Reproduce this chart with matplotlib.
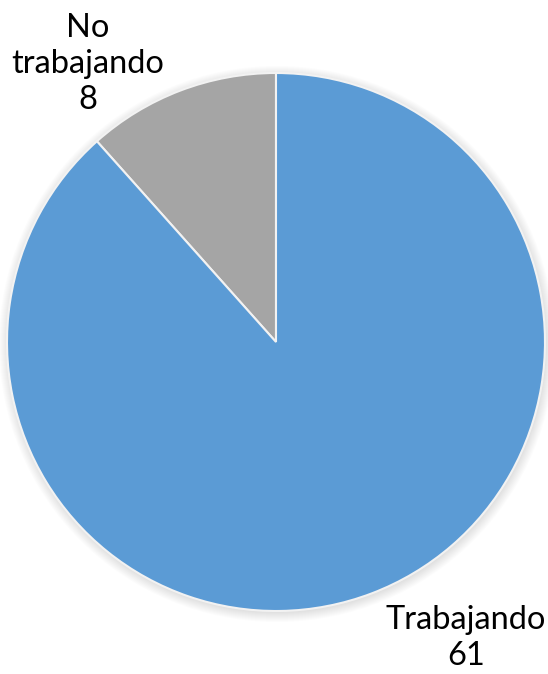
import matplotlib.pyplot as plt
from matplotlib.patches import Circle

# data
categories = ['No\ntrabajando', 'Trabajando']
values = [8, 61]
colors = ['#A5A5A5', '#5B9BD5']

W, H = 548, 674
fig = plt.figure(figsize=(W / 100, H / 100), dpi=100)
ax = fig.add_axes([0, 0, 1, 1])
ax.set_xlim(0, W)
ax.set_ylim(0, H)
ax.set_aspect('equal')
ax.axis('off')

cx, cy, r = 276, H - 342, 269

# soft shadow round the pie
for k in range(10):
    ax.add_patch(Circle((cx + 1, cy - 2), r + 9 - k, color='#808080',
                        alpha=0.025, lw=0, zorder=0))

wedges, _ = ax.pie(values, colors=colors, startangle=90, counterclock=True,
                   radius=r, center=(cx, cy), explode=[0.018, 0],
                   wedgeprops=dict(edgecolor='#f2f2f2', linewidth=1.5),
                   frame=True)
ax.set_xlim(0, W)
ax.set_ylim(0, H)
ax.axis('off')

lab_font = dict(fontsize=23.5, family='Lato', color='black',
                ha='center', va='center', linespacing=1.25, zorder=5)
ax.text(88, H - 64, f'{categories[0]}\n{values[0]}', **lab_font)
ax.text(466, H - 638, f'{categories[1]}\n{values[1]}', **lab_font)

fig.savefig('out.png', dpi=100)
